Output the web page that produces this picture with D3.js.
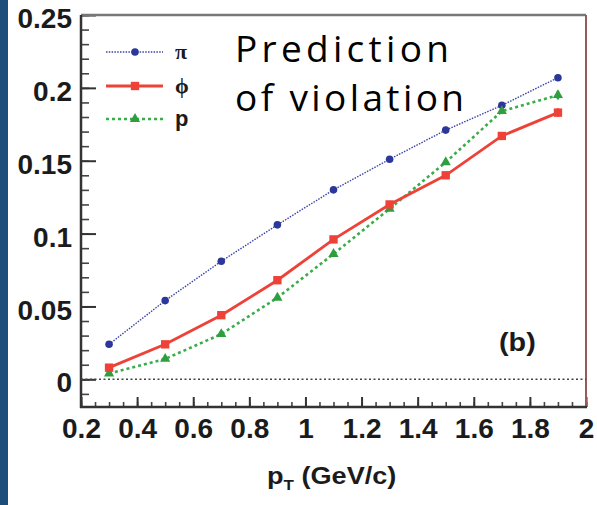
<!DOCTYPE html>
<html>
<head>
<meta charset="utf-8">
<script src="https://cdn.jsdelivr.net/npm/d3@7"></script>
<style>
  body { margin: 0; background: #fff; }
  svg { display: block; }
  .tick text { font-family: "Liberation Sans", Arial, sans-serif; font-weight: bold; fill: #1b1b1b; }
</style>
</head>
<body>
<div id="chart"></div>
<script>
// pT bins (GeV/c)
var ptBins = [0.3, 0.5, 0.7, 0.9, 1.1, 1.3, 1.5, 1.7, 1.9];
// values
var piValues  = [0.024, 0.054, 0.081, 0.106, 0.130, 0.151, 0.171, 0.188, 0.207];
var phiValues = [0.008, 0.024, 0.044, 0.068, 0.096, 0.120, 0.140, 0.167, 0.183];
var phiErrors = [0, 0, 0, 0, 0.001, 0.001, 0.001, 0.002, 0.003];
var pValues   = [0.004, 0.014, 0.031, 0.056, 0.086, 0.117, 0.149, 0.184, 0.195];
var pErrors   = [0, 0, 0, 0, 0.001, 0.001, 0.001, 0.002, 0.003];
var piErrors  = [0, 0, 0, 0, 0, 0, 0, 0.001, 0.002];

var xTicks = [0.2, 0.4, 0.6, 0.8, 1, 1.2, 1.4, 1.6, 1.8, 2];
var yTicks = [0, 0.05, 0.1, 0.15, 0.2, 0.25];
var legendLabels = ["\u03c0", "\u03d5", "p"];

var width = 597, height = 505;

var svg = d3.select("#chart").append("svg")
    .attr("width", width)
    .attr("height", height);

// blue slide strip on the left
svg.append("rect")
    .attr("x", 0).attr("y", 0)
    .attr("width", 8).attr("height", height)
    .attr("fill", "#1d4e7b");

var x = d3.scaleLinear().domain([0.2, 2]).range([81, 586]);
var y = d3.scaleLinear().domain([-0.019, 0.25]).range([407, 15]);

// minor ticks
var yMinor = d3.range(-0.01, 0.2501, 0.01);
var xMinor = d3.range(0.2, 2.001, 0.05);

svg.append("g")
    .attr("transform", "translate(81,0)")
    .call(d3.axisLeft(y).tickValues(yMinor).tickSizeInner(-8).tickSizeOuter(0).tickFormat(""))
    .call(function(g){ g.select(".domain").remove(); })
    .selectAll("line").attr("stroke", "#444").attr("stroke-width", 1.6);

svg.append("g")
    .attr("transform", "translate(0,407)")
    .call(d3.axisBottom(x).tickValues(xMinor).tickSizeInner(-5).tickSizeOuter(0).tickFormat(""))
    .call(function(g){ g.select(".domain").remove(); })
    .selectAll("line").attr("stroke", "#444").attr("stroke-width", 1.6);

// major ticks + labels
var yAxis = svg.append("g")
    .attr("transform", "translate(81,0)")
    .call(d3.axisLeft(y).tickValues(yTicks).tickSizeInner(-15).tickSizeOuter(0).tickPadding(9)
        .tickFormat(function(d){ return String(+d.toFixed(2)); }));
yAxis.select(".domain").remove();
yAxis.selectAll("line").attr("stroke", "#333").attr("stroke-width", 2);
yAxis.selectAll("text").attr("font-size", 28).attr("dy", "0.45em");

var xAxis = svg.append("g")
    .attr("transform", "translate(0,407)")
    .call(d3.axisBottom(x).tickValues(xTicks).tickSizeInner(-10).tickSizeOuter(0).tickPadding(11)
        .tickFormat(function(d){ return String(+d.toFixed(1)); }));
xAxis.select(".domain").remove();
xAxis.selectAll("line").attr("stroke", "#333").attr("stroke-width", 2);
xAxis.selectAll("text").attr("font-size", 28);

// frame
svg.append("line")
    .attr("x1", x(0.2)).attr("x2", x(2)).attr("y1", y(0.25)).attr("y2", y(0.25))
    .attr("stroke", "#777").attr("stroke-width", 2.5);
svg.append("line")
    .attr("x1", x(2)).attr("x2", x(2)).attr("y1", y(0.25)).attr("y2", 407)
    .attr("stroke", "#9b5a5a").attr("stroke-width", 2);
svg.append("line")
    .attr("x1", x(0.2)).attr("x2", x(0.2)).attr("y1", y(0.25)).attr("y2", 408)
    .attr("stroke", "#333").attr("stroke-width", 2.5);
svg.append("line")
    .attr("x1", x(0.2) - 1).attr("x2", x(2) + 1).attr("y1", 407).attr("y2", 407)
    .attr("stroke", "#333").attr("stroke-width", 2.5);

// zero line
svg.append("line")
    .attr("x1", x(0.2)).attr("x2", x(2)).attr("y1", y(0)).attr("y2", y(0))
    .attr("stroke", "#444").attr("stroke-width", 1.5)
    .attr("stroke-dasharray", "2,2.5");

var series = [
    {name: "pi",  values: piValues,  errors: piErrors,  color: "#3a44a8", mark: "#2b3799", width: 1.4, dash: "1.5,1.3", symbol: d3.symbolCircle,   size: 45},
    {name: "p",   values: pValues,   errors: pErrors,   color: "#3aad4a", mark: "#2f9e3f", width: 2.6, dash: "3,3",     symbol: d3.symbolTriangle, size: 45},
    {name: "phi", values: phiValues, errors: phiErrors, color: "#ee4238", mark: "#ee4238", width: 2.8, dash: null,      symbol: d3.symbolSquare,   size: 70}
];

var line = d3.line()
    .x(function(d){ return x(d[0]); })
    .y(function(d){ return y(d[1]); });

series.forEach(function(s){
    var pts = ptBins.map(function(b, i){ return [b, s.values[i], s.errors[i]]; });
    var g = svg.append("g").attr("class", s.name);
    g.append("path")
        .datum(pts)
        .attr("d", line)
        .attr("fill", "none")
        .attr("stroke", s.color)
        .attr("stroke-width", s.width)
        .attr("stroke-dasharray", s.dash);
    g.selectAll(".err")
        .data(pts.filter(function(d){ return d[2] > 0; }))
        .enter().append("line")
        .attr("x1", function(d){ return x(d[0]); })
        .attr("x2", function(d){ return x(d[0]); })
        .attr("y1", function(d){ return y(d[1] - d[2]); })
        .attr("y2", function(d){ return y(d[1] + d[2]); })
        .attr("stroke", s.mark).attr("stroke-width", 2.5);
    g.selectAll(".mk")
        .data(pts)
        .enter().append("path")
        .attr("d", d3.symbol().type(s.symbol).size(s.size))
        .attr("transform", function(d){ return "translate(" + x(d[0]) + "," + y(d[1]) + ")"; })
        .attr("fill", s.mark);
});

// legend
var legendY = [52, 86, 119];
var legendSeries = [series[0], series[2], series[1]];
legendSeries.forEach(function(s, i){
    var lg = svg.append("g").attr("transform", "translate(0," + legendY[i] + ")");
    lg.append("line")
        .attr("x1", 106).attr("x2", 163).attr("y1", 0).attr("y2", 0)
        .attr("stroke", s.color).attr("stroke-width", s.width)
        .attr("stroke-dasharray", s.dash);
    lg.append("path")
        .attr("d", d3.symbol().type(s.symbol).size(s.size))
        .attr("transform", "translate(135,0)")
        .attr("fill", s.mark);
    lg.append("text")
        .attr("x", 175).attr("y", 0).attr("dy", "0.3em")
        .attr("font-family", i < 2 ? "'Liberation Serif', serif" : "'Liberation Sans', Arial, sans-serif")
        .attr("font-weight", "bold")
        .attr("font-size", 22)
        .attr("fill", "#1b1b1b")
        .text(legendLabels[i]);
});

// panel label
svg.append("g")
    .attr("transform", "translate(499,351) scale(1.15,1)")
    .append("text")
    .attr("font-family", "'Liberation Sans', Arial, sans-serif")
    .attr("font-weight", "bold").attr("font-size", 25)
    .attr("fill", "#1b1b1b")
    .text("(b)");

// axis title
var title = svg.append("g")
    .attr("transform", "translate(267,484) scale(1.13,1)")
    .append("text")
    .attr("font-family", "'Liberation Sans', Arial, sans-serif")
    .attr("font-weight", "bold").attr("font-size", 24)
    .attr("fill", "#1b1b1b");
title.append("tspan").text("p");
title.append("tspan").attr("font-size", 15).attr("dy", 6).text("T");
title.append("tspan").attr("dy", -6).text(" (GeV/c)");

// overlaid annotation
svg.append("text")
    .attr("x", 235).attr("y", 62)
    .attr("font-family", "'Open Sans', 'Noto Sans', sans-serif")
    .attr("font-size", 37)
    .style("font-variant-ligatures", "none")
    .attr("textLength", 214)
    .attr("lengthAdjust", "spacing")
    .attr("fill", "#000")
    .text("Prediction");
svg.append("text")
    .attr("x", 235).attr("y", 111)
    .attr("font-family", "'Open Sans', 'Noto Sans', sans-serif")
    .attr("font-size", 37)
    .style("font-variant-ligatures", "none")
    .attr("textLength", 229)
    .attr("lengthAdjust", "spacing")
    .attr("fill", "#000")
    .text("of violation");
</script>
</body>
</html>
